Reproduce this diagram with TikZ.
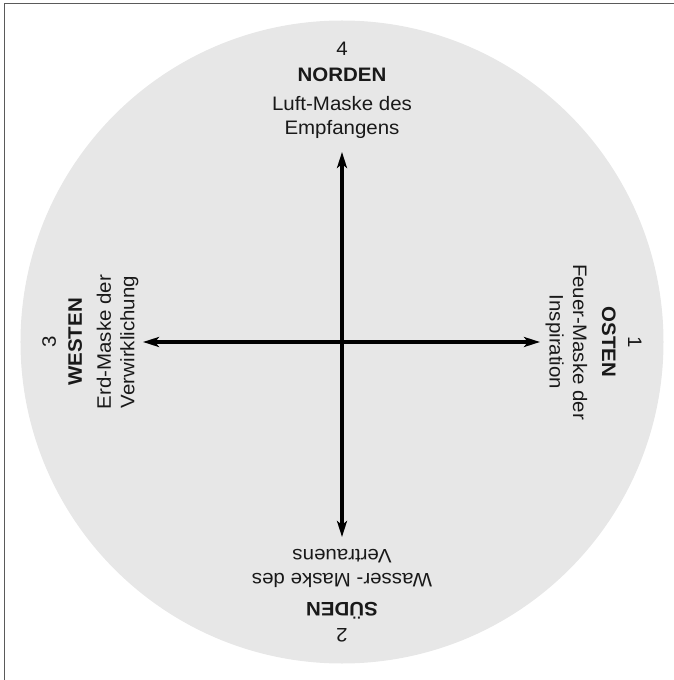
\documentclass[tikz,border=0pt]{standalone}
\usepackage{fontspec}
\setmainfont[FakeStretch=1.05]{Liberation Sans}
\usetikzlibrary{arrows.meta}
\definecolor{disc}{RGB}{231,231,231}
\definecolor{framegray}{RGB}{90,90,90}

\begin{document}
\begin{tikzpicture}[x=1pt, y=1pt,
    axis/.style = {line width=3.2pt, -{Stealth[length=16pt, width=10pt, inset=4pt]}},
    lbl/.style = {anchor=base, inner sep=0pt, text=black!90,
                  font=\fontsize{19.5}{23}\selectfont}]
\useasboundingbox (-342,-338) rectangle (332,342);
\fill[disc] (0,0) circle (321.5);
\draw[framegray, line width=1.4pt] (-337.5,-338) -- (-337.5,338.5) -- (332,338.5);
\coordinate (c) at (0,0);
\foreach \a/\len/\k/\num/\name/\top/\bot in {
    90/190/n/4/NORDEN/Luft-Maske des/Empfangens,
    0/198/o/1/OSTEN/Feuer-Maske der/Inspiration,
    270/195/s/2/SÜDEN/Wasser- Maske des/Vertrauens,
    180/199/w/3/WESTEN/Erd-Maske der/Verwirklichung}
{
    \coordinate (tip\k) at (\a:\len);
    \draw[axis] (c) -- (tip\k);
    \node[lbl, rotate=\a-90] (num\k) at (\a:286) {\num};
    \node[lbl, rotate=\a-90] (name\k) at (\a:260) {\textbf{\name}};
    \node[lbl, rotate=\a-90] (top\k) at (\a:231) {\top};
    \node[lbl, rotate=\a-90] (bot\k) at (\a:207.5) {\bot};
}
\end{tikzpicture}
\end{document}
